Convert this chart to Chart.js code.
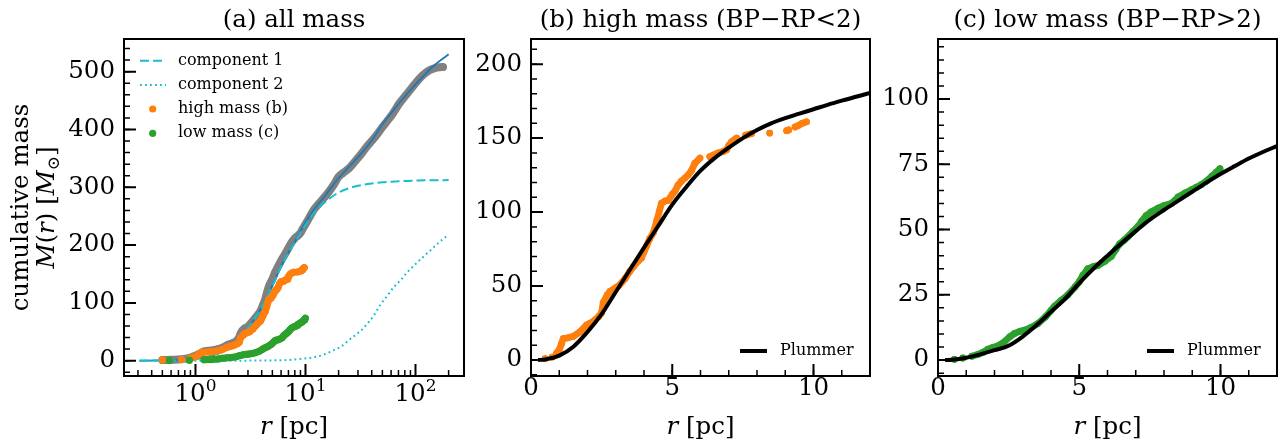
<!DOCTYPE html>
<html><head><meta charset="utf-8">
<script src="https://cdn.jsdelivr.net/npm/chart.js@4.4.0/dist/chart.umd.min.js"></script>
<style>
html,body{margin:0;padding:0;background:#fff;}
#wrap{position:relative;width:1285px;height:445px;overflow:hidden;background:#fff;}
canvas{position:absolute;left:0;top:0;}
</style></head><body>
<div id="wrap">
<canvas id="ca" width="1285" height="445"></canvas>
<canvas id="cb" width="1285" height="445"></canvas>
<canvas id="cc" width="1285" height="445"></canvas>
</div>
<script>
// ---------------- data ----------------
// panel (a): model curves
const modelR = [0.31,0.5,0.7,1,1.3,1.6,2,2.4,2.85,3.4,4,5,6,7,8,9,10,12,15,20,25,30,40,50,60,70,85,100,120,150,200];
const totalM = [0,0.4,1.1,3.2,6.8,12,21,32,50,71,92,130,163,187,206,224,239,262,285,316,336,352,381,409,428,444,463,478,494,512,530];
const comp1M = [0,0.4,1.1,3.2,6.8,12,21,32,50,71,92,129.5,162.5,186,204.5,221.5,235,256,274,291,298.5,302.5,306.5,308.5,309.5,310.5,311,311.5,312,312,312.5];
const comp2R = [0.31,1,2,3,5,7,10,12,14,17.5,21.6,25.7,30.6,36.3,41.7,48,55.5,63.3,73,84,100,115,137,162,200];
const comp2M = [0,0,0,0.1,0.5,1.2,4,6,9,17,26,38,49,63.5,78,97,112.5,127,139,153,167,178,191,204,218];
// panel (a): all-mass data
const allR = [0.5,0.6,0.75,0.9,1.0,1.1,1.2,1.4,1.6,1.8,2.0,2.2,2.35,2.5,2.6,2.8,3.0,3.3,3.6,3.9,4.1,4.3,4.5,4.7,5.0,5.3,5.6,6.0,6.5,7.0,7.5,8.0,8.5,9.0,9.5,10,11,12,13,14,16,18,20,22,25,28,32,36,40,45,50,55,60,65,70,80,90,100,110,120,135,150,165,178];
const allM = [1,1.5,2.6,5.5,8.5,12.5,16,17.5,20,23.5,28,31,34,41,49,56,59,68,77,86,96,106,120,131,141,153,162,173,184,195,205,212,216,221,229,236,250,262,270,277,290,304,318,325,333,344,357,370,380,392,404,414,423,433,443,457,469,480,489,496,503,506,507.5,508];
// high mass (BP-RP<2), null = gap between stars
const highR = [0.50,0.62,0.75,0.82,0.90,1.00,1.08,1.14,1.3,1.5,1.73,1.97,2.1,2.26,2.4,2.5,2.56,2.7,2.8,3.0,3.1,3.33,3.5,3.62,3.8,3.91,4.0,4.09,4.2,4.33,4.45,4.55,4.62,4.75,4.86,5.0,5.09,5.2,5.33,5.45,5.56,5.68,5.8,5.98,6.15,6.33,6.45,6.63,6.8,6.92,7.0,7.1,7.28,7.45,7.6,7.8,8.1,8.45,8.8,9.05,9.12,9.25,9.35,9.46,9.6,9.75];
const highM = [1.0,null,2.0,null,4.5,7,11,14.5,15,16,19,23.7,25,27,29.5,32,39,44,46.5,49,50,55,60,63,67,69,73,77,82,86,94,101,106,107.5,108,112,114,118,121,123,125,128,133,136.5,null,137.5,138.5,140,141,142,145,147.5,150,null,152,153,null,153.4,null,155,155.5,null,157.5,158.5,160,161];
// low mass (BP-RP>2)
const lowR = [0.58,0.72,0.88,1.04,1.2,1.4,1.6,1.77,1.95,2.12,2.35,2.55,2.71,2.9,3.07,3.3,3.54,3.8,4.0,4.13,4.35,4.6,4.85,5.0,5.13,5.31,5.5,5.66,5.9,6.14,6.3,6.43,6.6,6.73,6.9,7.08,7.2,7.37,7.55,7.79,8.0,8.26,8.4,8.5,8.75,8.97,9.15,9.32,9.5,9.7,9.85,9.98];
const lowM = [0.3,null,0.8,null,1.5,2.1,3,4.2,4.9,5.4,7,9,10.2,11,11.5,12.5,14,16.5,19,20.7,22.8,25,28,30,32.5,35,35.8,36.2,37.8,39.8,42.5,44.5,46,47.3,49.3,51.2,53,55.3,56.8,58.2,59.2,60,61.3,62.5,64,65.2,66.2,67.2,68.5,70.5,72,73.3];
// Plummer fits
const plumR  = [0.25,0.5,1,1.5,2,2.5,3,3.5,4,4.5,5,5.5,6,6.5,7,7.5,8,8.5,9,9.5,10,10.5,11,11.5,12];
const plumBM = [0,0.4,3,9,19,31,46,61,76,90.5,105,117,128,136.5,143.5,150,155.5,160,163.5,166.5,169.5,172.5,175.3,178,180.5];
const plumCM = [0,0.1,0.9,2.2,3.8,5.5,9,13.5,18.5,23.5,29.5,35,40,44.8,49.4,53.8,57.5,61,64.5,68,71.3,74.3,77.2,79.7,82];
// ticks
const aYTicks = [0,100,200,300,400,500];
const aXTicks = [1,10,100];
const aXExp   = ['0','1','2'];
const bYTicks = [0,50,100,150,200];
const cYTicks = [0,25,50,75,100];
const linXTicks = [0,5,10];
// labels
const titles = ['(a) all mass','(b) high mass (BP\u2212RP<2)','(c) low mass (BP\u2212RP>2)'];
const legendA = ['component 1','component 2','high mass (b)','low mass (c)'];

// ---------------- helpers ----------------
const FONT = "'DejaVu Serif','DejaVu Sans',serif";
const FS = 24.5;
const C_BLUE='#1f77b4', C_CYAN='#17becf', C_ORANGE='#ff7f0e', C_GREEN='#2ca02c', C_GRAY='#808080';
const pts = (xs, ys) => xs.map((x,i)=>({x:x, y:ys[i]}));
function range(a,b,s){const o=[];for(let v=a;v<=b+1e-9;v+=s)o.push(Math.round(v*1000)/1000);return o;}
function logMinors(){const o=[];for(let e=-1;e<=2;e++)for(let m=2;m<=9;m++)o.push(m*Math.pow(10,e));return o;}

function segText(ctx, segs, x, y, align){
  let w=0; segs.forEach(s=>{ctx.font=s.f; s.w=ctx.measureText(s.t).width; w+=s.w;});
  let cx = align==='center'? x-w/2 : x;
  ctx.textAlign='left';
  segs.forEach(s=>{ctx.font=s.f; ctx.fillText(s.t, cx, y+(s.dy||0)); cx+=s.w;});
}

function framePlugin(cfg){
  return {
    id:'frameTicks',
    afterDraw(chart){
      const ctx=chart.ctx, ca=chart.chartArea, xs=chart.scales.x, ys=chart.scales.y;
      ctx.save();
      ctx.strokeStyle='#000'; ctx.setLineDash([]);
      const drawX=(vals,len,lw)=>{ctx.lineWidth=lw;ctx.beginPath();vals.forEach(v=>{const p=xs.getPixelForValue(v);if(p<ca.left-0.5||p>ca.right+0.5)return;ctx.moveTo(p,ca.bottom);ctx.lineTo(p,ca.bottom-len);});ctx.stroke();};
      const drawY=(vals,len,lw)=>{ctx.lineWidth=lw;ctx.beginPath();vals.forEach(v=>{const p=ys.getPixelForValue(v);if(p<ca.top-0.5||p>ca.bottom+0.5)return;ctx.moveTo(ca.left,p);ctx.lineTo(ca.left+len,p);});ctx.stroke();};
      drawX(cfg.xMinor,6,1.5); drawX(cfg.xMajor,12,2);
      drawY(cfg.yMinor,6,1.5); drawY(cfg.yMajor,12,2);
      ctx.lineWidth=2; ctx.strokeRect(ca.left,ca.top,ca.right-ca.left,ca.bottom-ca.top);
      ctx.fillStyle='#000';
      ctx.textAlign='center'; ctx.textBaseline='alphabetic';
      ctx.font=`${FS}px ${FONT}`;
      ctx.fillText(cfg.title,(ca.left+ca.right)/2,27);
      segText(ctx,[{t:'r',f:`italic ${FS}px ${FONT}`},{t:' [pc]',f:`${FS}px ${FONT}`}],(ca.left+ca.right)/2,434,'center');
      if(cfg.extra) cfg.extra(chart,ctx,ca,xs,ys);
      ctx.restore();
    }
  };
}

function makeOptions(o){
  return {
    responsive:false, animation:false, devicePixelRatio:1,
    layout:{padding:o.pad},
    plugins:{legend:{display:false},tooltip:{enabled:false},title:{display:false}},
    elements:{point:{radius:0,borderWidth:0}},
    scales:{
      x:{type:o.xType,min:o.xMin,max:o.xMax,
         grid:{display:false,drawTicks:false},border:{display:false},
         afterFit:s=>{s.height=60;},
         afterBuildTicks:s=>{s.ticks=o.xTicks.map(v=>({value:v}));},
         ticks:{display:o.xLabels,autoSkip:false,maxRotation:0,color:'#000',padding:0,
                font:{family:FONT,size:FS,lineHeight:1}}},
      y:{type:'linear',min:o.yMin,max:o.yMax,
         grid:{display:false,drawTicks:false},border:{display:false},
         afterFit:s=>{s.width=60;},
         afterBuildTicks:s=>{s.ticks=o.yTicks.map(v=>({value:v}));},
         ticks:{autoSkip:false,color:'#000',padding:9,font:{family:FONT,size:FS}}}
    }
  };
}

const lineDS=(data,color,w,extra)=>Object.assign({data:data,borderColor:color,backgroundColor:color,borderWidth:w,pointRadius:0,fill:false,clip:0,cubicInterpolationMode:'monotone'},extra||{});
const dotDS=(data,color,r,w)=>({data:data,borderColor:color,backgroundColor:color,borderWidth:w,pointRadius:r,pointBorderWidth:0,pointBackgroundColor:color,fill:false,clip:0,tension:0,borderCapStyle:'round',borderJoinStyle:'round',spanGaps:false});

// ---------------- panel (a) ----------------
new Chart(document.getElementById('ca'),{
  type:'line',
  data:{datasets:[
    dotDS(pts(lowR,lowM),C_GREEN,3.5,7),
    dotDS(pts(highR,highM),C_ORANGE,3.5,7),
    lineDS(pts(comp2R,comp2M),C_CYAN,2,{borderDash:[1.8,3.2]}),
    lineDS(pts(modelR,comp1M),C_CYAN,2,{borderDash:[9,4]}),
    lineDS(pts(modelR,totalM),C_BLUE,1.8),
    Object.assign(dotDS(pts(allR,allM),C_GRAY,0,8),{cubicInterpolationMode:'monotone'})
  ]},
  options:makeOptions({pad:{left:64,right:821,top:39,bottom:9},xType:'logarithmic',xMin:0.224,xMax:276,
    xTicks:aXTicks,xLabels:false,yMin:-26.5,yMax:556.5,yTicks:aYTicks}),
  plugins:[framePlugin({title:titles[0],xMajor:aXTicks,xMinor:logMinors(),yMajor:aYTicks,yMinor:range(-20,540,20),
    extra:(chart,ctx,ca,xs,ys)=>{
      ctx.textBaseline='alphabetic';
      aXTicks.forEach((v,i)=>{
        const p=xs.getPixelForValue(v);
        ctx.font=`${FS}px ${FONT}`; const w1=ctx.measureText('10').width;
        ctx.font=`17px ${FONT}`; const w2=ctx.measureText(aXExp[i]).width;
        const x0=p-(w1+w2)/2;
        ctx.textAlign='left';
        ctx.font=`${FS}px ${FONT}`; ctx.fillText('10',x0,401);
        ctx.font=`17px ${FONT}`; ctx.fillText(aXExp[i],x0+w1,391);
      });
      const lx=ca.left, ty=ca.top;
      const rows=[21.7,46,70,94.3];
      ctx.lineWidth=2; ctx.strokeStyle=C_CYAN;
      ctx.setLineDash([9,4]); ctx.beginPath(); ctx.moveTo(lx+16,ty+rows[0]); ctx.lineTo(lx+42,ty+rows[0]); ctx.stroke();
      ctx.setLineDash([1.8,3.2]); ctx.beginPath(); ctx.moveTo(lx+16,ty+rows[1]); ctx.lineTo(lx+42,ty+rows[1]); ctx.stroke();
      ctx.setLineDash([]);
      ctx.fillStyle=C_ORANGE; ctx.beginPath(); ctx.arc(lx+28.7,ty+rows[2],3.6,0,Math.PI*2); ctx.fill();
      ctx.fillStyle=C_GREEN; ctx.beginPath(); ctx.arc(lx+28.7,ty+rows[3],3.6,0,Math.PI*2); ctx.fill();
      ctx.fillStyle='#000'; ctx.font=`16px ${FONT}`; ctx.textAlign='left'; ctx.textBaseline='middle';
      legendA.forEach((t,i)=>ctx.fillText(t,lx+54,ty+rows[i]));
      const cy=(ca.top+ca.bottom)/2;
      ctx.save(); ctx.translate(ca.left-96,cy); ctx.rotate(-Math.PI/2);
      ctx.textBaseline='alphabetic'; ctx.textAlign='center'; ctx.font=`${FS}px ${FONT}`;
      ctx.fillText('cumulative mass',0,0);
      ctx.restore();
      ctx.save(); ctx.translate(ca.left-70,cy); ctx.rotate(-Math.PI/2);
      ctx.textBaseline='alphabetic';
      const it=`italic ${FS}px ${FONT}`, rm=`${FS}px ${FONT}`;
      segText(ctx,[{t:'M',f:it},{t:'(',f:rm},{t:'r',f:it},{t:')',f:rm},{t:' [',f:rm},{t:'M',f:it},{t:'\u2299',f:`17px ${FONT}`,dy:5},{t:']',f:rm}],0,0,'center');
      ctx.restore();
    }})]
});

// ---------------- panel (b) ----------------
function plummerLegend(ctx,ca){
  ctx.strokeStyle='#000'; ctx.lineWidth=4; ctx.setLineDash([]);
  ctx.beginPath(); ctx.moveTo(ca.right-130,351); ctx.lineTo(ca.right-103,351); ctx.stroke();
  ctx.fillStyle='#000'; ctx.font=`16px ${FONT}`; ctx.textAlign='left'; ctx.textBaseline='middle';
  ctx.fillText('Plummer',ca.right-90,351);
}
new Chart(document.getElementById('cb'),{
  type:'line',
  data:{datasets:[
    lineDS(pts(plumR,plumBM),'#000',4),
    dotDS(pts(highR,highM),C_ORANGE,3.4,6.8)
  ]},
  options:makeOptions({pad:{left:471,right:415,top:39,bottom:9},xType:'linear',xMin:0,xMax:12,
    xTicks:linXTicks,xLabels:true,yMin:-10.8,yMax:217,yTicks:bYTicks}),
  plugins:[framePlugin({title:titles[1],xMajor:linXTicks,xMinor:range(0,12,1),yMajor:bYTicks,yMinor:range(-10,210,10),
    extra:(chart,ctx,ca)=>plummerLegend(ctx,ca)})]
});

// ---------------- panel (c) ----------------
new Chart(document.getElementById('cc'),{
  type:'line',
  data:{datasets:[
    lineDS(pts(plumR,plumCM),'#000',4),
    dotDS(pts(lowR,lowM),C_GREEN,3.4,6.8)
  ]},
  options:makeOptions({pad:{left:878,right:8,top:39,bottom:9},xType:'linear',xMin:0,xMax:12,
    xTicks:linXTicks,xLabels:true,yMin:-6.1,yMax:123,yTicks:cYTicks}),
  plugins:[framePlugin({title:titles[2],xMajor:linXTicks,xMinor:range(0,12,1),yMajor:cYTicks,yMinor:range(-5,120,5),
    extra:(chart,ctx,ca)=>plummerLegend(ctx,ca)})]
});
</script>
</body></html>
